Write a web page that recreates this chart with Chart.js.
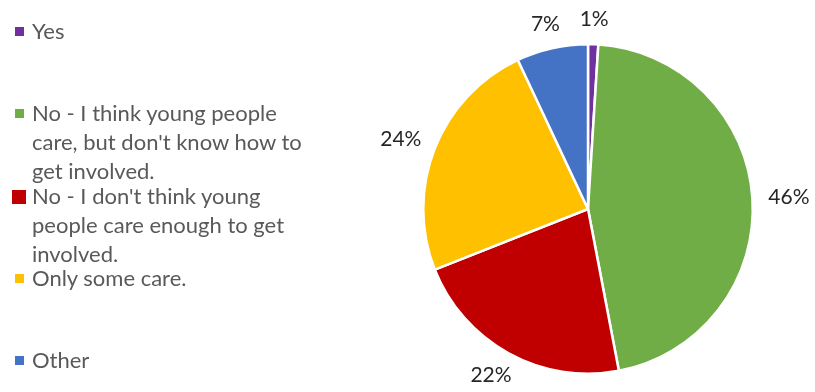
<!DOCTYPE html>
<html>
<head>
<meta charset="utf-8">
<script src="https://cdn.jsdelivr.net/npm/chart.js@4/dist/chart.umd.min.js"></script>
<style>
  html, body { margin: 0; padding: 0; background: #fff; }
  #wrap { position: relative; width: 815px; height: 392px; }
  #pie { position: absolute; left: 0; top: 0; }
  #legend { position: absolute; left: 0; top: 0; width: 330px; height: 392px; }
  .item { position: absolute; left: 32px; width: 280px; font: 22px Lato, sans-serif; line-height: 29px; color: #595959; }
  .box { position: absolute; left: -17px; top: 11px; width: 9px; height: 9px; }
</style>
</head>
<body>
<div id="wrap">
  <canvas id="pie" width="815" height="392"></canvas>
  <div id="legend"></div>
</div>
<script>
const categories = [
  'Yes',
  "No - I think young people care, but don't know how to get involved.",
  "No - I don't think young people care enough to get involved.",
  'Only some care.',
  'Other'
];
const shares = [1, 46, 22, 24, 7];
const sliceColors = ['#7030A0', '#70AD47', '#C00000', '#FFC000', '#4472C4'];

// legend on the left, entries spread evenly down the page
const legend = document.getElementById('legend');
categories.forEach(function (name, i) {
  const item = document.createElement('div');
  item.className = 'item';
  item.style.top = (16 + i * 82.25) + 'px';
  item.textContent = name;
  const box = document.createElement('span');
  box.className = 'box';
  box.style.background = sliceColors[i];
  if (i === 2) { // this one is shown selected, bigger marker
    box.style.left = '-20px'; box.style.top = '9px';
    box.style.width = '14px'; box.style.height = '14px';
  }
  item.appendChild(box);
  legend.appendChild(item);
});

// percentage labels just outside each slice
const outsideLabels = {
  id: 'outsideLabels',
  afterDatasetsDraw(chart) {
    const ctx = chart.ctx;
    const meta = chart.getDatasetMeta(0);
    ctx.save();
    ctx.font = '21px Lato, sans-serif';
    ctx.fillStyle = '#262626';
    ctx.textAlign = 'center';
    ctx.textBaseline = 'middle';
    meta.data.forEach(function (arc, i) {
      const mid = (arc.startAngle + arc.endAngle) / 2;
      const dx = Math.cos(mid), dy = Math.sin(mid);
      const r = arc.outerRadius + 16;
      const text = shares[i] + '%';
      const w = ctx.measureText(text).width;
      const h = 18;
      const x = arc.x + dx * r + dx * w / 2;
      const y = arc.y + dy * r + dy * h / 2;
      ctx.fillText(text, x, y);
    });
    ctx.restore();
  }
};

new Chart(document.getElementById('pie'), {
  type: 'pie',
  data: {
    labels: categories,
    datasets: [{
      data: shares,
      backgroundColor: sliceColors,
      borderColor: '#ffffff',
      borderWidth: 2.5
    }]
  },
  options: {
    responsive: false,
    animation: false,
    layout: { padding: { left: 422, right: 61, top: 42, bottom: 16 } },
    plugins: {
      legend: { display: false },
      tooltip: { enabled: false }
    }
  },
  plugins: [outsideLabels]
});
</script>
</body>
</html>
